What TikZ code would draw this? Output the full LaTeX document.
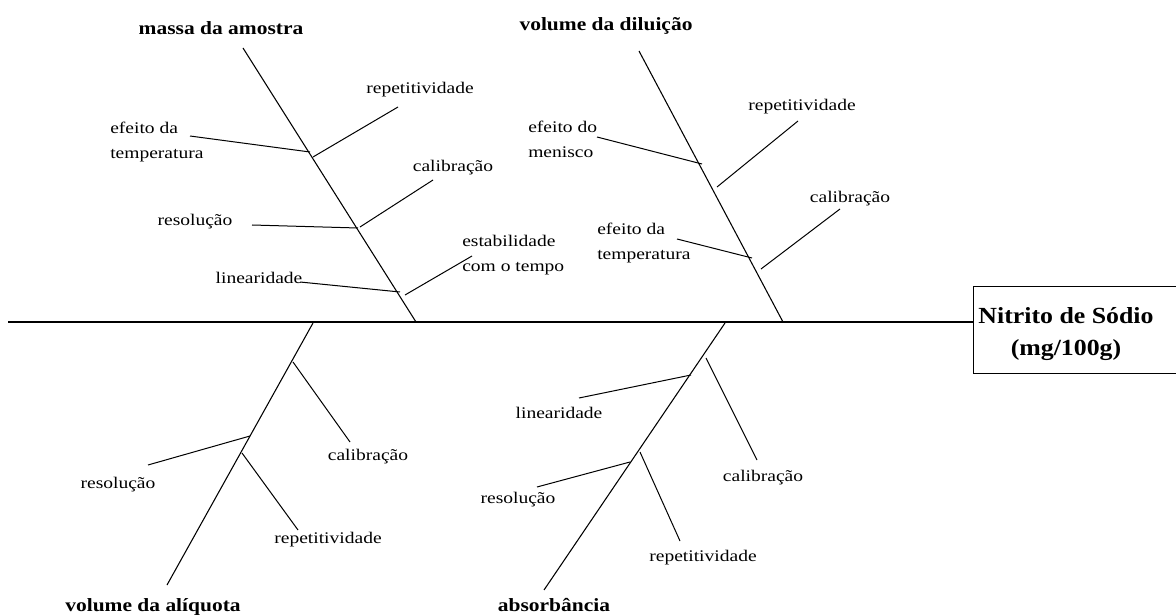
\documentclass[tikz,border=0pt]{standalone}
\usepackage{fontspec}
\setmainfont{Liberation Serif}
\newfontfamily\lblfont[FakeStretch=1.2]{Liberation Serif}
\newfontfamily\bldfont[FakeStretch=1.15]{Liberation Serif}
\newfontfamily\ttlfont[FakeStretch=1.12]{Liberation Serif}
\tikzset{
  lbl/.style={inner sep=0pt, font={\lblfont\fontsize{12.2}{18.75}\selectfont}},
  lblw/.style={lbl, align=left, anchor=west},
  cat/.style={inner sep=0pt, font={\bldfont\bfseries\fontsize{14}{16}\selectfont}},
  bone/.style={line width=0.8pt, black},
  rib/.style={line width=0.75pt, black},
  spine/.style={line width=1.5pt, black},
  effbox/.style={draw, line width=1.1pt, anchor=north west, inner sep=0pt,
    minimum width=165pt, minimum height=65.25pt}
}
\begin{document}
\begin{tikzpicture}[x=0.75pt,y=-0.75pt]
\useasboundingbox (0,0) rectangle (1176,616);
\clip (0,0) rectangle (1176,616);
\fill[white] (0,0) rectangle (1176,616);

% effect box
\node[effbox] (box) at (973,286) {};
\node[inner sep=0pt, align=center, font={\ttlfont\bfseries\fontsize{17.3}{24}\selectfont}] (eff) at (1066,334) {Nitrito de Sódio\\(mg/100g)};

% spine
\coordinate (sL) at (8,322);
\draw[spine] (sL) -- (box.west |- sL);

% ---------- top-left: massa da amostra ----------
\node[cat] (c1) at (221,28) {massa da amostra};
\coordinate (c1t) at (243,48); \coordinate (c1b) at (416,322);
\draw[bone] (c1t) -- (c1b);
\node[lblw] (c1a) at (110,142.5) {efeito da\\temperatura};
\coordinate (c1a1) at (190,136); \coordinate (c1a2) at (310,152);
\draw[rib] (c1a1) -- (c1a2);
\node[lbl] (c1b_) at (420,90) {repetitividade};
\coordinate (c1b1) at (313,157); \coordinate (c1b2) at (398,107);
\draw[rib] (c1b1) -- (c1b2);
\node[lbl] (c1c) at (453,168) {calibração};
\coordinate (c1c1) at (360,227); \coordinate (c1c2) at (433,180);
\draw[rib] (c1c1) -- (c1c2);
\node[lbl] (c1d) at (195,222) {resolução};
\coordinate (c1d1) at (252,225); \coordinate (c1d2) at (358,228);
\draw[rib] (c1d1) -- (c1d2);
\node[lbl] (c1e) at (259,278) {linearidade};
\coordinate (c1e1) at (300,282); \coordinate (c1e2) at (400,292);
\draw[rib] (c1e1) -- (c1e2);
\node[lblw] (c1f) at (462,255.5) {estabilidade\\com o tempo};
\coordinate (c1f1) at (405,295); \coordinate (c1f2) at (472,256);
\draw[rib] (c1f1) -- (c1f2);

% ---------- top-right: volume da diluição ----------
\node[cat] (c2) at (606,26) {volume da diluição};
\coordinate (c2t) at (639,51); \coordinate (c2b) at (783,322);
\draw[bone] (c2t) -- (c2b);
\node[lblw] (c2a) at (528,139.5) {efeito do\\menisco};
\coordinate (c2a1) at (597,137); \coordinate (c2a2) at (702,164);
\draw[rib] (c2a1) -- (c2a2);
\node[lbl] (c2b_) at (802,107) {repetitividade};
\coordinate (c2b1) at (717,187); \coordinate (c2b2) at (798,121);
\draw[rib] (c2b1) -- (c2b2);
\node[lbl] (c2c) at (850,199) {calibração};
\coordinate (c2c1) at (761,269); \coordinate (c2c2) at (840,209);
\draw[rib] (c2c1) -- (c2c2);
\node[lblw] (c2d) at (597,243.5) {efeito da\\temperatura};
\coordinate (c2d1) at (677,239); \coordinate (c2d2) at (752,258);
\draw[rib] (c2d1) -- (c2d2);

% ---------- bottom-left: volume da alíquota ----------
\node[cat] (c3) at (153,607) {volume da alíquota};
\coordinate (c3t) at (313,323); \coordinate (c3b) at (167,585);
\draw[bone] (c3t) -- (c3b);
\node[lbl] (c3a) at (368,457) {calibração};
\coordinate (c3a1) at (293,362); \coordinate (c3a2) at (350,442);
\draw[rib] (c3a1) -- (c3a2);
\node[lbl] (c3b_) at (118,485) {resolução};
\coordinate (c3b1) at (148,465); \coordinate (c3b2) at (250,436);
\draw[rib] (c3b1) -- (c3b2);
\node[lbl] (c3c) at (328,540) {repetitividade};
\coordinate (c3c1) at (242,453); \coordinate (c3c2) at (298,530);
\draw[rib] (c3c1) -- (c3c2);

% ---------- bottom-right: absorbância ----------
\node[cat] (c4) at (554,605) {absorbância};
\coordinate (c4t) at (725,323); \coordinate (c4b) at (544,590);
\draw[bone] (c4t) -- (c4b);
\node[lbl] (c4a) at (559,413) {linearidade};
\coordinate (c4a1) at (579,398); \coordinate (c4a2) at (691,375);
\draw[rib] (c4a1) -- (c4a2);
\node[lbl] (c4b_) at (763,478) {calibração};
\coordinate (c4b1) at (706,358); \coordinate (c4b2) at (757,460);
\draw[rib] (c4b1) -- (c4b2);
\node[lbl] (c4c) at (518,500) {resolução};
\coordinate (c4c1) at (537,487); \coordinate (c4c2) at (630,462);
\draw[rib] (c4c1) -- (c4c2);
\node[lbl] (c4d) at (703,558) {repetitividade};
\coordinate (c4d1) at (640,452); \coordinate (c4d2) at (680,541);
\draw[rib] (c4d1) -- (c4d2);
\end{tikzpicture}
\end{document}
